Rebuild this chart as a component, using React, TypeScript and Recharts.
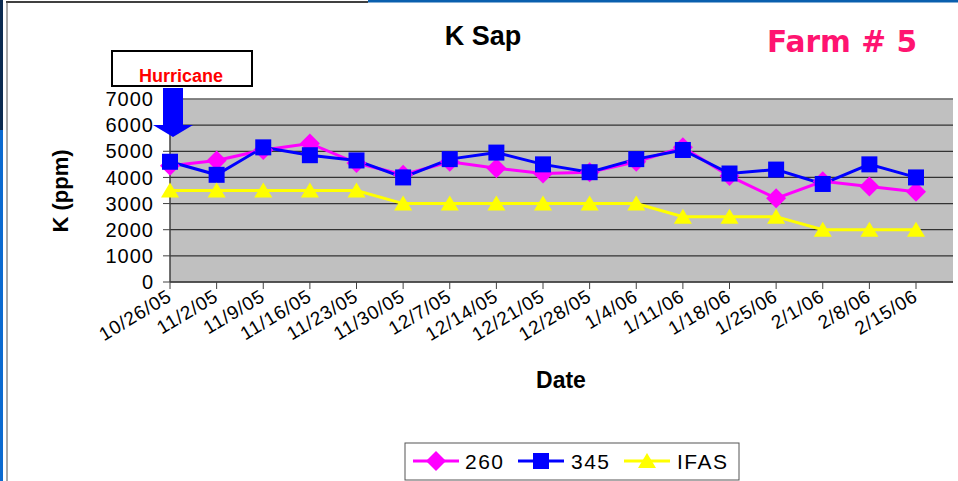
import { LineChart, Line, XAxis, YAxis, CartesianGrid, ReferenceLine } from "recharts";

const dates = [
  "10/26/05", "11/2/05", "11/9/05", "11/16/05", "11/23/05", "11/30/05",
  "12/7/05", "12/14/05", "12/21/05", "12/28/05", "1/4/06", "1/11/06",
  "1/18/06", "1/25/06", "2/1/06", "2/8/06", "2/15/06",
];
const s260 = [4450, 4650, 5050, 5300, 4550, 4100, 4600, 4350, 4150, 4200, 4600, 5150, 4050, 3200, 3850, 3650, 3450];
const s345 = [4600, 4100, 5150, 4850, 4650, 4000, 4700, 4950, 4500, 4200, 4700, 5050, 4150, 4300, 3750, 4500, 4000];
const ifas = [3500, 3500, 3500, 3500, 3500, 3000, 3000, 3000, 3000, 3000, 3000, 2500, 2500, 2500, 2000, 2000, 2000];
const yTicks = [0, 1000, 2000, 3000, 4000, 5000, 6000, 7000];

const data = dates.map((d, i) => ({ date: d, a: s260[i], b: s345[i], c: ifas[i] }));

const FONT = "'Liberation Sans', Arial, sans-serif";

// marker shapes, excel style
const Diamond = ({ cx, cy, fill }: any) =>
  cx == null ? null : (
    <polygon points={`${cx},${cy - 10} ${cx + 10},${cy} ${cx},${cy + 10} ${cx - 10},${cy}`} fill={fill} />
  );
const Square = ({ cx, cy, fill }: any) =>
  cx == null ? null : <rect x={cx - 8} y={cy - 8} width={16} height={16} fill={fill} />;
const Triangle = ({ cx, cy, fill }: any) =>
  cx == null ? null : (
    <polygon points={`${cx},${cy - 8} ${cx + 9},${cy + 7} ${cx - 9},${cy + 7}`} fill={fill} />
  );

const series = [
  { key: "a", name: "260", color: "#FF00FF", Mark: Diamond },
  { key: "b", name: "345", color: "#0000FF", Mark: Square },
  { key: "c", name: "IFAS", color: "#FFFF00", Mark: Triangle },
];

const DateTick = ({ x, y, payload }: any) => {
  const ax = x + 3;
  const ay = y + 9;
  return (
    <text
      x={ax}
      y={ay}
      transform={`rotate(-31, ${ax}, ${ay})`}
      textAnchor="end"
      fontSize={19}
      letterSpacing={0.8}
      fontFamily={FONT}
      fill="#000"
    >
      {payload.value}
    </text>
  );
};

export default function App() {
  return (
    <div style={{ position: "absolute", left: 0, top: 0, width: 958, height: 481, background: "#fff" }}>
      <LineChart
        width={958}
        height={481}
        data={data}
        margin={{ top: 99, right: 5, bottom: 0, left: 0 }}
      >
        <CartesianGrid vertical={false} fill="#C0C0C0" stroke="#333" strokeWidth={1.2} />
        <XAxis
          dataKey="date"
          interval={0}
          height={199}
          padding={{ left: 0, right: 37 }}
          tick={<DateTick />}
          tickSize={7}
          axisLine={{ stroke: "#404040", strokeWidth: 1.5 }}
          tickLine={{ stroke: "#404040" }}
        />
        <YAxis
          width={170}
          domain={[0, 7000]}
          ticks={yTicks}
          interval={0}
          tickSize={7}
          tickMargin={9}
          tick={{ fontSize: 20, fill: "#000", fontFamily: FONT, letterSpacing: 1 }}
          axisLine={{ stroke: "#404040", strokeWidth: 1.5 }}
          tickLine={{ stroke: "#404040" }}
        />
        <YAxis
          yAxisId="r"
          orientation="right"
          width={0}
          domain={[0, 7000]}
          tick={false}
          tickLine={false}
          axisLine={{ stroke: "#808080", strokeWidth: 1.5 }}
        />
        <ReferenceLine y={7000} stroke="#808080" strokeWidth={1.5} />
        {series.map((s) => (
          <Line
            key={s.key}
            dataKey={s.key}
            name={s.name}
            stroke={s.color}
            strokeWidth={3}
            dot={<s.Mark fill={s.color} />}
            activeDot={false}
            isAnimationActive={false}
          />
        ))}
      </LineChart>

      <svg
        width={958}
        height={481}
        style={{ position: "absolute", left: 0, top: 0, pointerEvents: "none" }}
      >
        {/* frame bits */}
        <line x1={6} y1={2} x2={368} y2={2} stroke="#000" strokeWidth={1.5} />
        <line x1={368} y1={1} x2={958} y2={1} stroke="#0a5fae" strokeWidth={3} />
        <line x1={1.5} y1={0} x2={1.5} y2={130} stroke="#0a2a50" strokeWidth={3} />
        <line x1={1.5} y1={130} x2={1.5} y2={481} stroke="#0a6ad0" strokeWidth={3} />
        <line x1={7} y1={2} x2={7} y2={481} stroke="#555" strokeWidth={1} />

        <text x={483} y={45} textAnchor="middle" fontSize={27} fontWeight="bold" fontFamily={FONT}>
          K Sap
        </text>
        <text
          x={767}
          y={52}
          fontSize={31}
          fontWeight="bold"
          fontFamily="'DejaVu Sans', sans-serif"
          fill="#FF1470"
          textLength={150}
          lengthAdjust="spacingAndGlyphs"
        >
          Farm # 5
        </text>

        {/* hurricane note */}
        <rect x={112} y={51} width={140} height={35} fill="#fff" stroke="#000" strokeWidth={2} />
        <text x={181} y={82} textAnchor="middle" fontSize={18} fontWeight="bold" fill="#FF0000" fontFamily={FONT}>
          Hurricane
        </text>
        <polygon
          points="163,88 183,88 183,125 193,125 173,137 153,125 163,125"
          fill="#0000FF"
        />

        <text
          x={0}
          y={0}
          transform="translate(68, 191) rotate(-90)"
          textAnchor="middle"
          fontSize={22}
          fontWeight="bold"
          fontFamily={FONT}
        >
          K (ppm)
        </text>
        <text x={561} y={388} textAnchor="middle" fontSize={23} fontWeight="bold" fontFamily={FONT}>
          Date
        </text>

        {/* legend */}
        <rect x={405} y={443} width={334} height={37} fill="#fff" stroke="#555" strokeWidth={1} />
        {series.map((s, i) => {
          const lx = [413, 518, 624][i];
          const tx = [465, 571, 677][i];
          const mx = lx + 23;
          return (
            <g key={s.key}>
              <line x1={lx} y1={461} x2={lx + 46} y2={461} stroke={s.color} strokeWidth={3} />
              <s.Mark cx={mx} cy={461} fill={s.color} />
              <text x={tx} y={469} fontSize={21} letterSpacing={1.5} fontFamily={FONT}>
                {s.name}
              </text>
            </g>
          );
        })}
      </svg>
    </div>
  );
}
